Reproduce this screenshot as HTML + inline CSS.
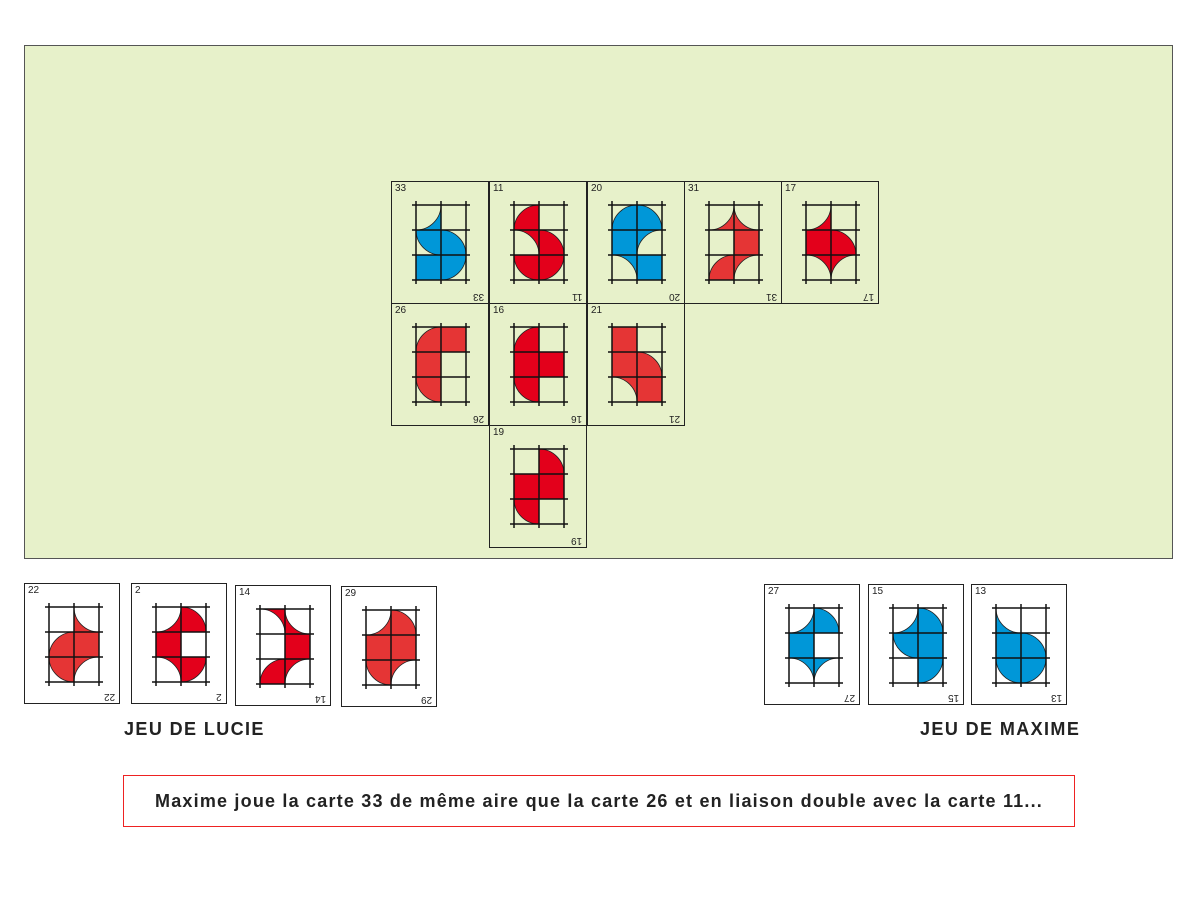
<!DOCTYPE html>
<html><head><meta charset="utf-8"><style>
body{margin:0;width:1200px;height:900px;background:#fff;position:relative;font-family:"Liberation Sans",sans-serif;overflow:hidden}
.board{position:absolute;left:24px;top:45px;width:1147px;height:512px;background:#e7f1ca;border:1px solid #555}
.card{position:absolute;width:96px;height:121px;border:1.5px solid #222;box-sizing:border-box;background:#fff}
.card.g{background:#e7f1ca}
.card .n{position:absolute;left:3px;top:1px;font-size:10px;color:#222}
.card .m{position:absolute;right:4px;bottom:1px;font-size:10px;color:#222;transform:rotate(180deg)}
.card svg{position:absolute;left:0;top:0}
.lbl{position:absolute;font-weight:bold;font-size:18px;letter-spacing:1.4px;color:#222}
.box{position:absolute;left:123px;top:775px;width:952px;height:52px;border:1.5px solid #e22;box-sizing:border-box;text-align:center;line-height:50px;font-weight:bold;font-size:18px;letter-spacing:1.2px;color:#222}
</style></head><body>
<div class="board"></div>
<div id="cards"></div>
<div class="lbl" style="left:124px;top:719px">JEU DE LUCIE</div>
<div class="lbl" style="left:920px;top:719px">JEU DE MAXIME</div>
<div class="box">Maxime joue la carte 33 de même aire que la carte 26 et en liaison double avec la carte 11...</div>
<script>
var R='#e3001b',L='#e53535',B='#0097d8';
var cards=[
[33,391,181,1,B,'C00tl Q01tr Q11bl Q12tl S02'],
[11,489,181,1,R,'Q00br C01bl Q11bl Q12tl Q02tr'],
[20,587,181,1,B,'Q00br Q10bl S01 C11br C02bl S12'],
[31,684,181,1,L,'C00tl C10tr S11 Q02br C12br'],
[17,781,181,1,R,'C00tl S01 Q11bl C02bl C12br'],
[26,391,303,1,L,'Q00br S10 S01 Q02tr'],
[16,489,303,1,R,'Q00br S01 S11 Q02tr'],
[21,587,303,1,L,'S00 S01 Q11bl C02bl S12'],
[19,489,425,1,R,'Q10bl S01 S11 Q02tr'],
[22,24,583,0,L,'C10tr Q01br S11 Q02tr C12br'],
[2,131,583,0,R,'C00tl Q10bl S01 C02bl Q12tl'],
[14,235,585,0,R,'C00bl C10tr S11 Q02br C12br'],
[29,341,586,0,L,'C00tl Q10bl S01 S11 Q02tr C12br'],
[27,764,584,0,B,'C00tl Q10bl S01 C02bl C12br'],
[15,868,584,0,B,'C00tl Q10bl Q01tr S11 Q12tl'],
[13,971,584,0,B,'C00tr S01 Q11bl Q02tr Q12tl']];
var s=25,ox=24,oy=23,h='';
function P(x,y){return (ox+x*s).toFixed(1)+','+(oy+y*s).toFixed(1);}
cards.forEach(function(c){
 var paths='';
 c[5].split(' ').forEach(function(t){
  var k=t[0],cx=+t[1],cy=+t[2],co=t.substr(3);
  if(k=='S'){paths+='<path d="M'+P(cx,cy)+'L'+P(cx+1,cy)+'L'+P(cx+1,cy+1)+'L'+P(cx,cy+1)+'Z"/>';return;}
  var px=cx+(co[1]=='r'?1:0),py=cy+(co[0]=='b'?1:0),dx=co[1]=='r'?-1:1,dy=co[0]=='b'?-1:1;
  var a=P(px+dx,py),b=P(px,py+dy),sw=dx*dy>0?1:0,r=s;
  if(k=='Q')paths+='<path d="M'+P(px,py)+'L'+a+'A'+r+','+r+' 0 0 '+sw+' '+b+'Z"/>';
  else paths+='<path d="M'+a+'L'+P(px+dx,py+dy)+'L'+b+'A'+r+','+r+' 0 0 '+(1-sw)+' '+a+'Z"/>';
 });
 var g='';
 for(var i=0;i<3;i++)g+='<line x1="'+(ox+i*s)+'" y1="'+(oy-4)+'" x2="'+(ox+i*s)+'" y2="'+(oy+3*s+4)+'"/>';
 for(var j=0;j<4;j++)g+='<line x1="'+(ox-4)+'" y1="'+(oy+j*s)+'" x2="'+(ox+2*s+4)+'" y2="'+(oy+j*s)+'"/>';
 h+='<div class="card'+(c[3]?' g':'')+'" style="left:'+c[1]+'px;top:'+c[2]+'px;'+(c[3]?'width:98px;height:123px':'')+'"><span class="n">'+c[0]+'</span><span class="m">'+c[0]+'</span><svg width="98" height="123"><g fill="'+c[4]+'" stroke="#222" stroke-width="0.8">'+paths+'</g><g stroke="#111" stroke-width="1.5">'+g+'</g></svg></div>';
});
document.getElementById('cards').innerHTML=h;
</script>
</body></html>
